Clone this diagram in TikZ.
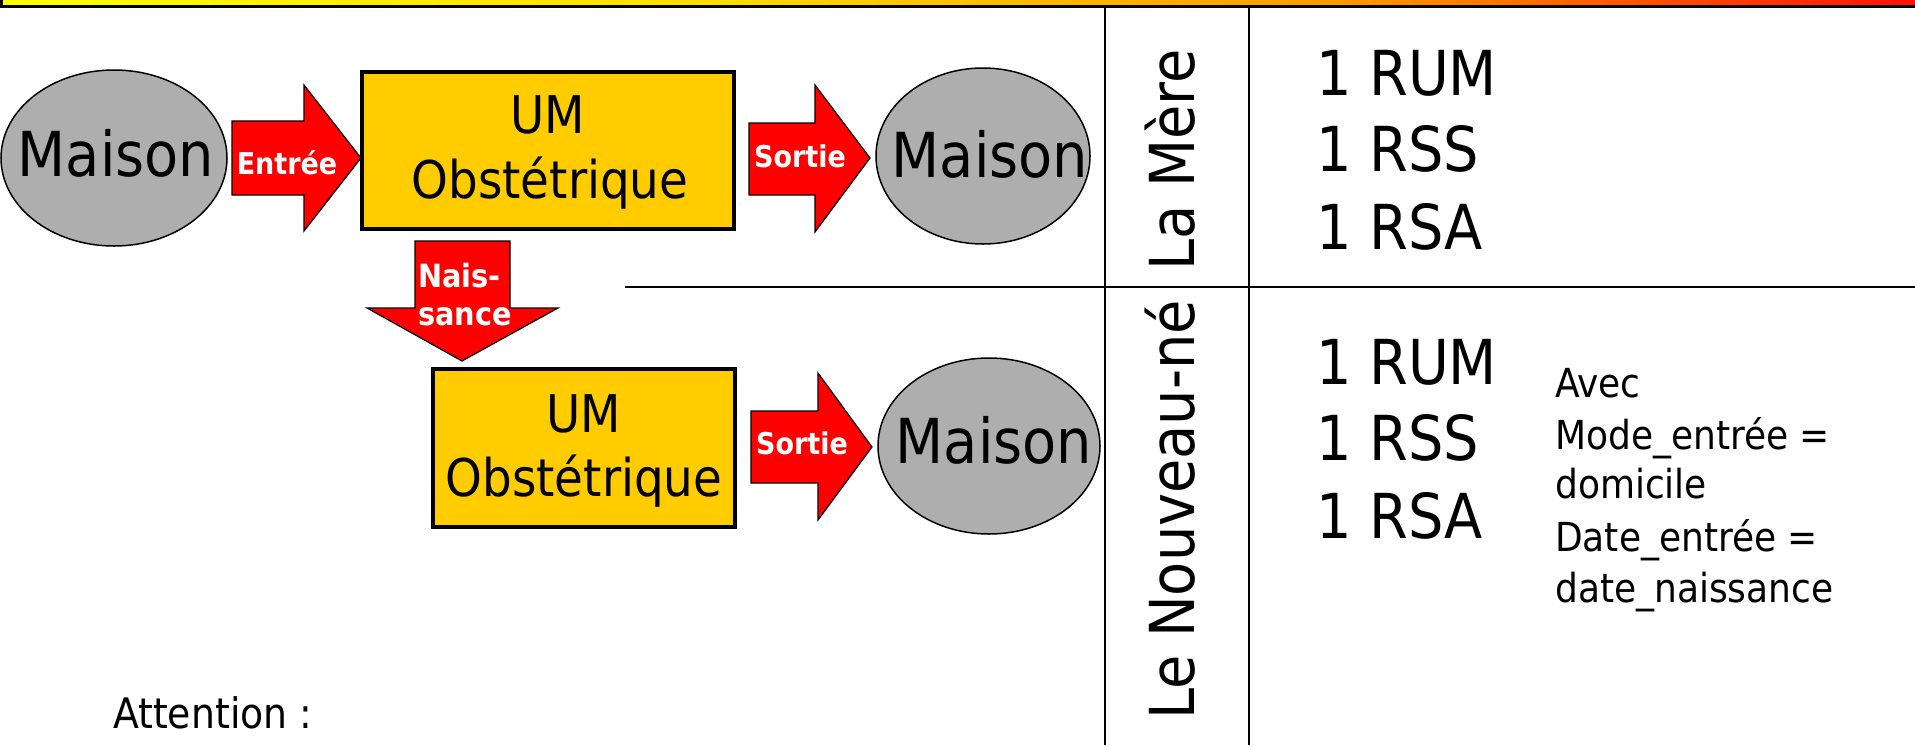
\documentclass[tikz,border=0pt]{standalone}
\usepackage{fontspec}
\setmainfont{DejaVu Sans Condensed}
\usetikzlibrary{shapes.geometric}
\definecolor{boxyellow}{HTML}{FFCC00}
\definecolor{grayfill}{HTML}{AEAEAE}
\definecolor{arrowred}{HTML}{FF0000}
\definecolor{barA}{HTML}{FFFF00}
\definecolor{barB}{HTML}{FFDD00}
\definecolor{barC}{HTML}{FF9900}
\definecolor{barD}{HTML}{FF1100}
\pgfdeclarehorizontalshading{topbar}{100bp}{color(0bp)=(barA); color(25bp)=(barA); color(43bp)=(barB); color(60bp)=(barC); color(75bp)=(barD); color(100bp)=(barD)}
\tikzset{
  maisonell/.style={ellipse, draw=black, line width=1.5, fill=grayfill, inner sep=0},
  umbox/.style={rectangle, draw=black, line width=4, fill=boxyellow, inner sep=0},
  blockarrow/.style={fill=arrowred, draw=black, line width=1.2, line join=miter},
  bigtxt/.style={inner sep=0, font=\fontsize{62}{74}\selectfont},
  umtxt/.style={inner sep=0, font=\fontsize{52}{62}\selectfont},
  arrtxt/.style={inner sep=0, text=white, font=\bfseries\fontsize{30}{36}\selectfont},
  smalltxt/.style={inner sep=0, anchor=base west, font=\fontsize{40}{48}\selectfont},
  paneline/.style={draw=black, line width=2.5},
}
\begin{document}
\begin{tikzpicture}[x=1pt,y=-1pt]
\useasboundingbox (0,0) rectangle (1915,745);
% top bar
\path[shading=topbar] (0,-10) rectangle (1915,6);
\draw[line width=2.5] (1.25,-10) -- (1.25,6.5) -- (1915,6.5);

% panel lines
\coordinate (vl1t) at (1105,7);
\coordinate (vl1b) at (1105,745);
\coordinate (vl2t) at (1249,7);
\coordinate (vl2b) at (1249,745);
\coordinate (hll) at (625,287);
\coordinate (hlr) at (1915,287);
\draw[paneline] (vl1t) -- (vl1b);
\draw[paneline] (vl2t) -- (vl2b);
\draw[paneline] (hll) -- (hlr);

% ellipses
\node[maisonell, minimum width=226, minimum height=176] (m1) at (114,158) {};
\node[bigtxt, anchor=base] (m1t) at (116,176) {Maison};
\node[maisonell, minimum width=214, minimum height=176] (m2) at (983,156) {};
\node[bigtxt, anchor=base] (m2t) at (990,177) {Maison};
\node[maisonell, minimum width=222, minimum height=176] (m3) at (989,446) {};
\node[bigtxt, anchor=base] (m3t) at (994,463) {Maison};

% boxes
\node[umbox, minimum width=372, minimum height=157] (um1) at (548,150.5) {};
\node[umtxt, anchor=base] (um1a) at (548,133) {UM};
\node[umtxt, anchor=base] (um1b) at (550,198) {Obstétrique};
\node[umbox, minimum width=302, minimum height=158] (um2) at (584,448) {};
\node[umtxt, anchor=base] (um2a) at (584,432) {UM};
\node[umtxt, anchor=base] (um2b) at (584,496) {Obstétrique};

% arrows
\draw[blockarrow] (232,121) -- (304,121) -- (304,85) -- (361,158) -- (304,231) -- (304,195) -- (232,195) -- cycle;
\node[arrtxt, anchor=base] (entree) at (287,174) {Entrée};
\draw[blockarrow] (749,123) -- (815,123) -- (815,85) -- (870,158) -- (815,232) -- (815,195) -- (749,195) -- cycle;
\node[arrtxt, anchor=base] (sortie1) at (800,167) {Sortie};
\draw[blockarrow] (751,411) -- (818,411) -- (818,373) -- (872,447) -- (818,520) -- (818,483) -- (751,483) -- cycle;
\node[arrtxt, anchor=base] (sortie2) at (802,454) {Sortie};
\draw[blockarrow] (415,241) -- (510,241) -- (510,308) -- (558,308) -- (462,361) -- (367,308) -- (415,308) -- cycle;
\node[arrtxt, anchor=base west, font=\bfseries\fontsize{32}{38}\selectfont] (nais1) at (418,287) {Nais-};
\node[arrtxt, anchor=base west, font=\bfseries\fontsize{32}{38}\selectfont] (nais2) at (418,325) {sance};

% vertical labels
\node[bigtxt, rotate=90, anchor=base west] (mere) at (1194,271) {La Mère};
\node[bigtxt, rotate=90, anchor=base west] (nn) at (1194,720) {Le Nouveau-né};

% right texts
\node[bigtxt, anchor=base west] (r1) at (1316,95) {1 RUM};
\node[bigtxt, anchor=base west] (r2) at (1316,171) {1 RSS};
\node[bigtxt, anchor=base west] (r3) at (1316,249) {1 RSA};
\node[bigtxt, anchor=base west] (r4) at (1316,384) {1 RUM};
\node[bigtxt, anchor=base west] (r5) at (1316,460) {1 RSS};
\node[bigtxt, anchor=base west] (r6) at (1316,538) {1 RSA};

\node[smalltxt] (a1) at (1555,397) {Avec};
\node[smalltxt] (a2) at (1555,449) {Mode\_entrée =};
\node[smalltxt] (a3) at (1555,498) {domicile};
\node[smalltxt] (a4) at (1555,551) {Date\_entrée =};
\node[smalltxt] (a5) at (1555,602) {date\_naissance};

\node[inner sep=0, anchor=base west, font=\fontsize{42}{50}\selectfont] (att) at (113,728) {Attention :};
\end{tikzpicture}
\end{document}
